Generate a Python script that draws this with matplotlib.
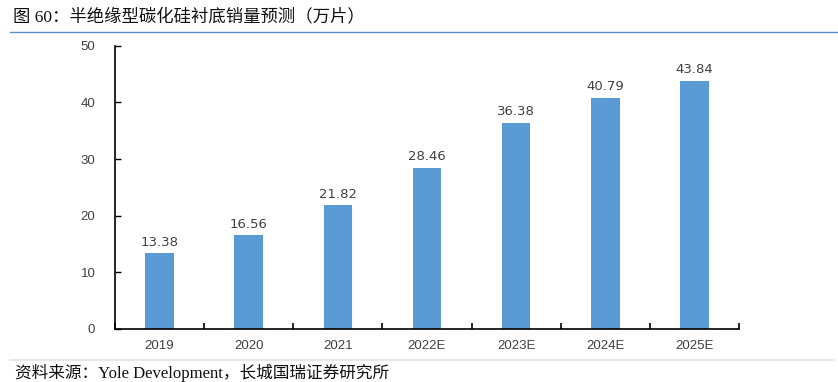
import matplotlib
matplotlib.use("Agg")
import matplotlib.pyplot as plt

# data
categories = ["2019", "2020", "2021", "2022E", "2023E", "2024E", "2025E"]
values = [13.38, 16.56, 21.82, 28.46, 36.38, 40.79, 43.84]
yticks = [0, 10, 20, 30, 40, 50]

title = "图 60：半绝缘型碳化硅衬底销量预测（万片）"
source = "资料来源：Yole Development，长城国瑞证券研究所"

fig = plt.figure(figsize=(8.38, 3.82), dpi=100)
ax = fig.add_axes([0.137, 0.139, 0.745, 0.741])

x = range(len(categories))
bars = ax.bar(x, values, width=0.32, color="#5B9BD5", zorder=2)
for xi, v in zip(x, values):
    ax.text(xi, v + 0.8, f"{v:.2f}", ha="center", va="bottom",
            fontsize=9.5, color="#404040", family="DejaVu Sans")

ax.set_xlim(-0.5, len(categories) - 0.5)
ax.set_ylim(0, 50)
ax.set_yticks(yticks)
ax.set_xticks(list(x))
ax.set_xticklabels(categories)
ax.set_xticks([i - 0.5 for i in range(len(categories) + 1)], minor=True)

for s in ["top", "right"]:
    ax.spines[s].set_visible(False)
ax.spines["left"].set_linewidth(1.2)
ax.spines["bottom"].set_linewidth(1.2)
ax.tick_params(axis="x", which="major", length=0, pad=8, labelsize=9.5,
               labelcolor="#404040")
ax.tick_params(axis="x", which="minor", length=4, width=1.2, direction="in")
ax.tick_params(axis="y", length=4, width=1.0, direction="in", pad=14,
               labelsize=9.5, labelcolor="#404040")
for lab in ax.get_xticklabels() + ax.get_yticklabels():
    lab.set_family("Liberation Sans")

fig.text(0.016, 0.955, title, fontsize=12.5, va="center", ha="left",
         family=["Liberation Serif", "Noto Sans CJK SC"], color="#111111")
fig.add_artist(plt.Line2D([0.012, 1.0], [0.916, 0.916], color="#5B8FD0",
                          linewidth=1.0))
fig.add_artist(plt.Line2D([0.012, 0.995], [0.058, 0.058], color="#DDE6EE",
                          linewidth=1.2))
fig.text(0.018, 0.024, source, fontsize=12, va="center", ha="left",
         family=["Liberation Serif", "Noto Sans CJK SC"], color="#111111")

fig.savefig("out.png", dpi=100)
